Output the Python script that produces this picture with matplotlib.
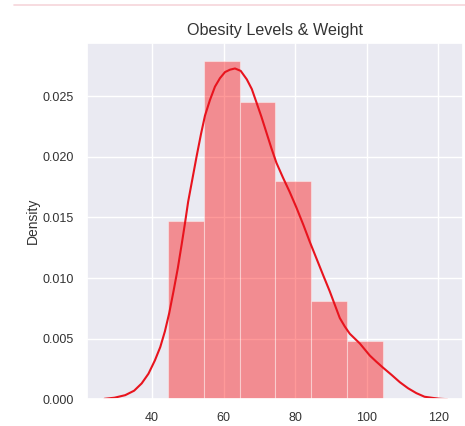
import matplotlib
matplotlib.use("Agg")
import matplotlib.pyplot as plt
import seaborn as sns
from matplotlib.lines import Line2D

# Histogram (density) bins
bin_edges = [44.5, 54.5, 64.5, 74.5, 84.5, 94.5, 104.5]
bin_density = [0.0147, 0.0279, 0.0245, 0.0180, 0.0081, 0.0048]

# KDE curve points
kde_x = [26.7, 29.5, 32.5, 35.0, 37.1, 39.0, 40.8, 42.3, 43.6, 44.8, 46.0, 47.2, 48.3, 49.2,
         50.1, 51.3, 52.5, 53.7, 54.8, 56.2, 57.6, 59.0, 60.4, 61.8, 63.2, 64.8, 66.5,
         67.9, 69.2, 70.6, 72.0, 73.4, 74.8, 76.6, 78.5, 80.4, 82.3, 84.1, 86.0, 87.9,
         89.7, 91.1, 92.5, 93.9, 95.3, 96.7, 98.1, 99.5, 100.9, 102.7, 104.6, 107.0,
         109.3, 111.6, 113.9, 116.2, 118.6, 120.6, 122.5]
kde_y = [0.00003, 0.00012, 0.00033, 0.00070, 0.0013, 0.0021, 0.0032, 0.0043, 0.0056, 0.0071,
         0.0089, 0.0108, 0.0128, 0.0145, 0.0163, 0.0182, 0.0201, 0.0219, 0.0234, 0.0247,
         0.0258, 0.0265, 0.0270, 0.0272, 0.0273, 0.0271, 0.0264, 0.0256, 0.0245, 0.0233,
         0.0220, 0.0207, 0.0195, 0.0183, 0.0171, 0.0158, 0.0144, 0.0130, 0.0116, 0.0102,
         0.0089, 0.0078, 0.0067, 0.0060, 0.0054, 0.0050, 0.0046, 0.0041, 0.0036, 0.0031,
         0.0026, 0.0020, 0.0014, 0.0009, 0.0005, 0.0002, 0.0001, 0.00003, 0.0]

title = "Obesity Levels & Weight"
ylabel = "Density"
xticks = [40, 60, 80, 100, 120]
yticks = [0.000, 0.005, 0.010, 0.015, 0.020, 0.025]

sns.set_theme(style="darkgrid")
plt.rcParams['font.family'] = ['Liberation Sans', 'DejaVu Sans']

fig = plt.figure(figsize=(4.65, 4.26), dpi=100)
ax = fig.add_axes([0.187, 0.063, 0.809, 0.836])

widths = [bin_edges[i + 1] - bin_edges[i] for i in range(len(bin_density))]
ax.bar(bin_edges[:-1], bin_density, width=widths, align='edge', color='red', alpha=0.4,
       edgecolor='white', linewidth=0.8)
ax.plot(kde_x, kde_y, color='#e8141e', linewidth=1.5, solid_joinstyle='round')

ax.set_xlim(21.8, 127)
ax.set_ylim(0, 0.0294)
ax.set_xticks(xticks)
ax.set_yticks(yticks)
ax.set_yticklabels([f"{v:.3f}" for v in yticks])
ax.tick_params(labelsize=9, colors='#333333')
ax.set_ylabel(ylabel, fontsize=10, color='#333333', labelpad=1.5)
ax.set_title(title, fontsize=11.6, color='#333333')

fig.add_artist(Line2D([0.03, 1.0], [0.988, 0.988], color='#f6d6da', linewidth=1.2,
                      transform=fig.transFigure))

fig.savefig("out.png", dpi=100)
